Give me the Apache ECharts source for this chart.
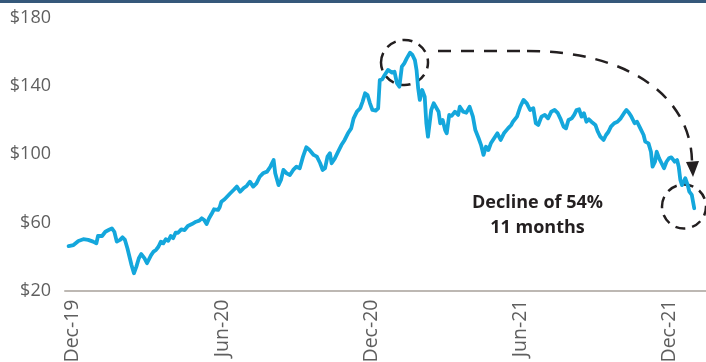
<!DOCTYPE html>
<html>
<head>
<meta charset="utf-8">
<script src="https://cdn.jsdelivr.net/npm/echarts@6/dist/echarts.min.js"></script>
<style>
html,body{margin:0;padding:0;background:#fff;}
#c{width:706px;height:362px;}
</style>
</head>
<body>
<div id="c"></div>
<script>
// x values: days since 1 Dec 2019
const days = [-5,1,7,13,19,25,29,31,36,40,44,48,51,54,58,61,64,67,70,72,75,78,81,84,88,91,93,96,99,102,105,108,111,114,117,120,123,126,129,133,137,141,146,151,155,158,161,164,167,170,173,178,180,182,186,
193,197,201,205,209,213,217,221,225,229,233,238,242,246,248,252,255,258,262,266,270,274,278,282,286,290,295,299,303,306,309,312,315,317,321,325,329,333,337,341,344,348,352,355,358,361,364,367,371,374,376,379,382,
386,391,394,397,400,403,406,409,413,416,419,421,423,425,428,431,433,435,439,442,444,448,450,453,456,458,461,464,468,472,474,478,482,486,490,493,497,500,503,506,509,512,516,520,524,528,533,537,539,544,548,552,556,560,564,567,570,574,578,
582,586,590,594,597,601,604,607,611,614,617,620,623,626,629,632,635,640,643,646,650,653,656,659,663,667,671,675,678,681,684,688,691,695,699,701,705,708,710,713,715,718,721,724,727,730,733,737,740,742,744,746,750,753,755,758,761];
const prices = [46.1,46.7,49.1,50.1,49.7,48.7,47.7,52.0,52.0,54.5,55.5,56.5,54.5,48.7,49.7,51.2,49.7,44.8,38.9,35.0,30.1,34.0,38.9,41.4,38.9,36.0,36.3,40.8,42.8,43.8,45.7,48.7,47.7,50.1,49.2,52.0,50.7,53.9,53.9,55.9,55.5,57.9,59.0,60.4,61.0,62.4,61.4,59.0,62.4,64.9,67.7,67.3,68.9,72.1,73.6,
77.1,79.0,81.0,78.0,80.0,81.4,83.9,81.0,82.9,86.8,88.8,89.8,92.7,96.6,88.8,81.9,84.9,90.8,88.8,87.8,90.8,92.7,91.8,98.6,104.1,102.5,99.6,98.6,94.7,90.8,91.8,98.6,100.6,94.7,97.6,101.5,105.4,108.4,112.3,115.2,121.1,125.0,127.0,130.9,135.8,134.8,129.9,126.0,125.6,127.0,143.6,144.0,146.5,
149.5,147.9,148.5,141.7,139.7,151.4,153.4,156.3,159.6,158.3,155.3,149.5,138.7,131.9,137.7,133.8,118.2,110.3,126.0,129.9,130.9,125.0,118.2,120.1,114.2,112.3,123.1,122.5,125.0,123.1,127.9,125.0,124.4,127.9,122.1,114.2,109.4,105.4,99.6,104.4,102.5,106.4,109.4,112.3,108.4,112.3,115.2,117.2,119.1,122.1,127.9,131.9,129.9,126.0,127.0,118.2,117.2,122.1,123.1,
121.1,125.0,126.0,124.1,121.1,116.2,115.2,120.1,121.1,123.1,126.0,126.4,122.1,124.1,119.1,120.5,119.1,117.2,113.2,110.3,108.4,111.3,113.2,116.2,118.2,119.1,121.1,124.1,126.0,124.4,122.1,118.2,119.1,115.2,111.3,107.4,106.4,101.5,92.7,95.6,101.5,97.6,94.7,91.8,95.6,97.6,98.2,95.6,96.6,92.7,84.9,81.9,85.9,81.9,78.0,76.1,68.3];
const tickDays = [0,183,366,548,731];
const tickLabels = ['Dec-19','Jun-20','Dec-20','Jun-21','Dec-21'];
const yTicks = [20,60,100,140,180];

const chart = echarts.init(document.getElementById('c'), null, {renderer:'canvas'});
const lineData = days.map((d,i)=>[d, prices[i]]);
const labelFont = '"Open Sans", "Noto Sans", sans-serif';
const ink = '#231f20';

chart.setOption({
  animation:false,
  grid:{left:65,right:0,top:18,bottom:71.5,containLabel:false,outerBoundsMode:'none'},
  xAxis:{
    type:'value', min:-9.4, max:775.4,
    splitLine:{show:false},
    axisTick:{show:false},
    axisLine:{show:true,lineStyle:{color:'#bdb8b3',width:2}},
    axisLabel:{
      customValues:tickDays,
      rotate:90, margin:9,
      color:'#5f5f5f', fontSize:19.5, fontFamily:labelFont,
      formatter:function(v){const i=tickDays.indexOf(v);return i>=0?tickLabels[i]:'';}
    }
  },
  yAxis:{
    type:'value', min:yTicks[0], max:yTicks[yTicks.length-1], interval:40,
    splitLine:{show:false},
    axisLine:{show:false},
    axisTick:{show:false},
    axisLabel:{margin:14,color:'#5f5f5f',fontSize:18,fontFamily:labelFont,formatter:v=>'$'+v}
  },
  series:[{
    type:'line', data:lineData, showSymbol:false, symbol:'none',
    lineStyle:{color:'#14a7dc',width:3.8,join:'round',cap:'round'}
  }],
  graphic:[
    {type:'rect',shape:{x:0,y:0,width:706,height:3},style:{fill:'#35587a'}},
    {type:'ellipse',shape:{cx:404.5,cy:62.5,rx:23.5,ry:22.5},style:{fill:null,stroke:ink,lineWidth:2.5,lineDash:[10,7]}},
    {type:'ellipse',shape:{cx:684,cy:206.5,rx:22,ry:22},style:{fill:null,stroke:ink,lineWidth:2.5,lineDash:[10,7]}},
    {type:'line',shape:{x1:438,y1:51,x2:525,y2:51},style:{stroke:ink,lineWidth:2.5,lineDash:[13,10]}},
    {type:'bezierCurve',shape:{x1:527,y1:51,cpx1:630,cpy1:51,cpx2:692,cpy2:98,x2:692,y2:163},style:{fill:null,stroke:ink,lineWidth:2.5,lineDash:[13,10]}},
    {type:'polygon',shape:{points:[[686,162],[699,161],[693,177]]},style:{fill:ink}},
    {type:'text',style:{text:'Decline of 54%',x:537.5,y:203,align:'center',verticalAlign:'middle',font:'bold 18px "Open Sans", sans-serif',fill:ink}},
    {type:'text',style:{text:'11 months',x:537.5,y:228,align:'center',verticalAlign:'middle',font:'bold 18px "Open Sans", sans-serif',fill:ink}}
  ]
});
</script>
</body>
</html>
